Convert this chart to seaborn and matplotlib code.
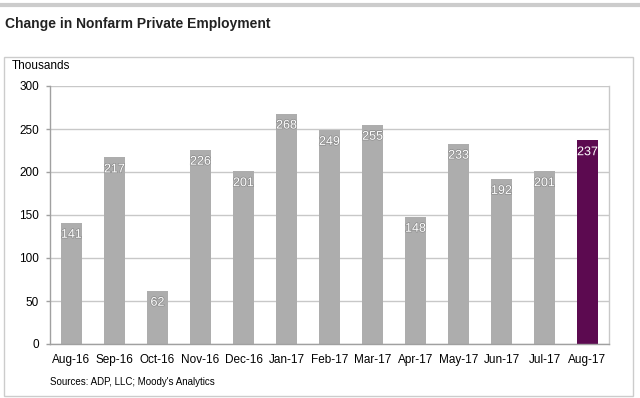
import matplotlib
matplotlib.use("Agg")
import matplotlib.pyplot as plt
import matplotlib.patheffects as pe
from matplotlib.patches import Rectangle
from matplotlib.lines import Line2D
import seaborn as sns
import pandas as pd

months = ["Aug-16", "Sep-16", "Oct-16", "Nov-16", "Dec-16", "Jan-17", "Feb-17",
          "Mar-17", "Apr-17", "May-17", "Jun-17", "Jul-17", "Aug-17"]
values = [141, 217, 62, 226, 201, 268, 249, 255, 148, 233, 192, 201, 237]
highlight = ["past"] * 12 + ["latest"]

sns.set_theme(style="white")
plt.rcParams['font.family'] = ['Liberation Sans', 'DejaVu Sans']

W, H = 640, 398
fig = plt.figure(figsize=(6.4, 3.98), dpi=100)
ax = fig.add_axes([50 / W, (H - 344) / H, 559 / W, 258 / H])

colors = {"past": "#ADADAD", "latest": "#5C0A50"}
df = pd.DataFrame({"month": months, "value": values, "group": highlight})
sns.barplot(data=df, x="month", y="value", hue="group",
            palette=colors, width=0.48, legend=False, ax=ax, saturation=1, linewidth=0)

ax.set_xlim(-0.5, len(months) - 0.5)
ax.set_ylim(0, 300)
ax.set_yticks([0, 50, 100, 150, 200, 250, 300])
ax.yaxis.grid(True, color="#C8C8C8", linewidth=1)
ax.set_axisbelow(True)
ax.set_xlabel("")
ax.set_ylabel("")
for s in ["left", "bottom", "right"]:
    ax.spines[s].set_color("#A0A0A0")
    ax.spines[s].set_linewidth(1)
ax.spines["right"].set_color("#C8C8C8")
ax.spines["top"].set_visible(False)

ax.set_xticks([i - 0.5 for i in range(len(months) + 1)], minor=True)
ax.tick_params(axis="x", which="major", length=0, pad=7, labelsize=8.5, labelcolor="#000000")
ax.tick_params(axis="x", which="minor", length=3.5, width=1, color="#A0A0A0", direction="out")
ax.tick_params(axis="y", length=3, width=1, color="#A0A0A0", direction="out", pad=5,
               labelsize=8.5, labelcolor="#000000", left=True)

for i, (v, g) in enumerate(zip(values, highlight)):
    stroke = "#8A8A8A" if g == "past" else colors["latest"]
    ax.annotate(str(v), xy=(i, v), xytext=(0, -12), textcoords="offset pixels",
                ha="center", va="center", color="white", fontsize=9,
                path_effects=[pe.withStroke(linewidth=1.0, foreground=stroke)])

# decorations
fig.add_artist(Line2D([0, 1], [1 - 5 / H, 1 - 5 / H], transform=fig.transFigure,
                      color="#CCCCCC", linewidth=3))
fig.add_artist(Rectangle((4 / W, (H - 396) / H), 629 / W, 339 / H,
                         transform=fig.transFigure, fill=False,
                         edgecolor="#CCCCCC", linewidth=1))
fig.text(5 / W, 1 - 24 / H, "Change in Nonfarm Private Employment", fontsize=10,
         fontweight="bold", color="#222222", va="center", ha="left")
fig.text(12 / W, 1 - 66 / H, "Thousands", fontsize=8.5, color="#000000",
         va="center", ha="left")
fig.text(50 / W, 1 - 382 / H, "Sources: ADP, LLC; Moody's Analytics", fontsize=7,
         color="#000000", va="center", ha="left")

fig.savefig("out.png", dpi=100)
